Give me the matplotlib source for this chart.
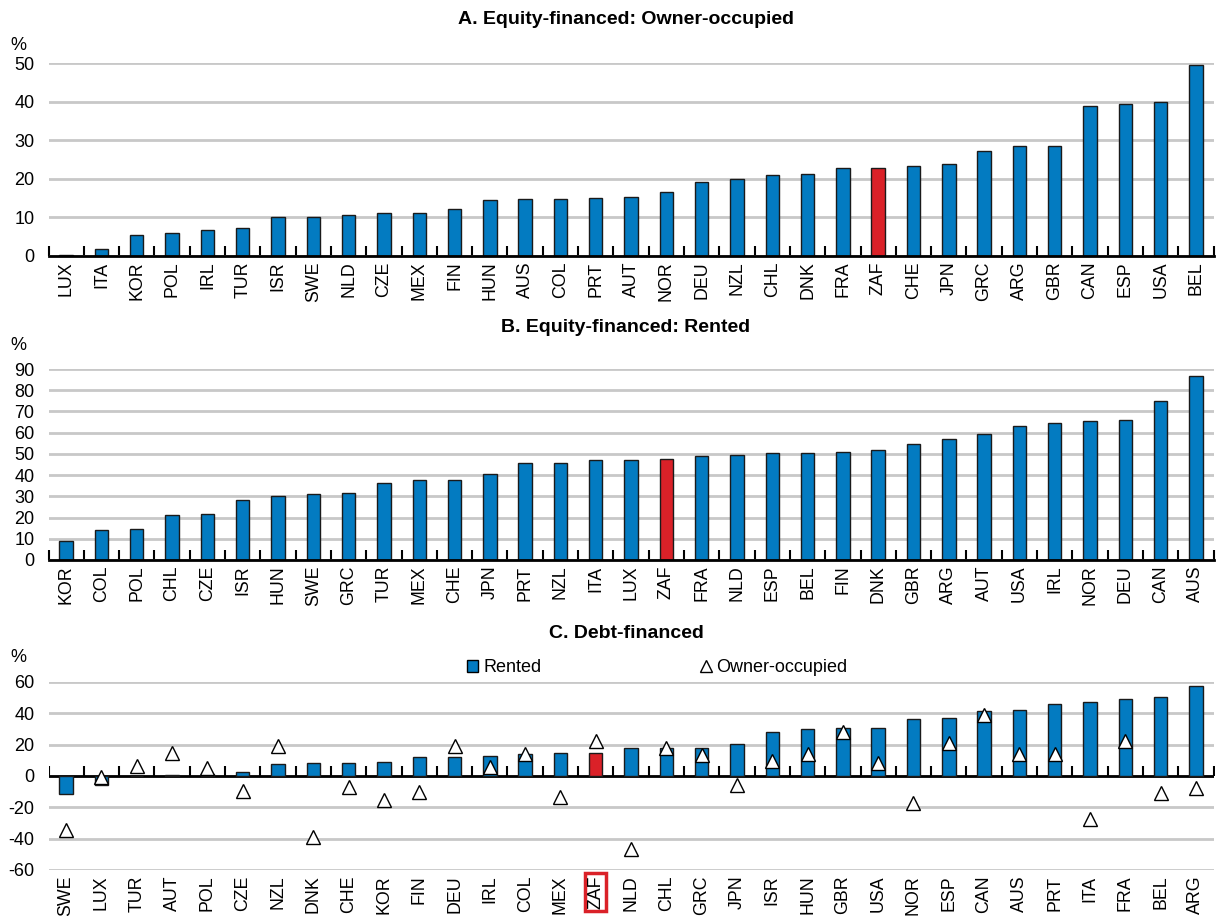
import matplotlib
matplotlib.use('Agg')
import matplotlib.pyplot as plt
from matplotlib import font_manager
from matplotlib.patches import Patch
from matplotlib.lines import Line2D
from matplotlib.ticker import FixedLocator

# Panel A: equity-financed, owner-occupied
a_countries = ['LUX', 'ITA', 'KOR', 'POL', 'IRL', 'TUR', 'ISR', 'SWE', 'NLD', 'CZE', 'MEX',
               'FIN', 'HUN', 'AUS', 'COL', 'PRT', 'AUT', 'NOR', 'DEU', 'NZL', 'CHL', 'DNK',
               'FRA', 'ZAF', 'CHE', 'JPN', 'GRC', 'ARG', 'GBR', 'CAN', 'ESP', 'USA', 'BEL']
a_values = [0.2, 1.9, 5.5, 6.0, 6.7, 7.2, 10.0, 10.1, 10.6, 11.2, 11.2,
            12.1, 14.4, 14.7, 14.7, 14.9, 15.4, 16.5, 19.3, 19.9, 21.1, 21.2,
            22.7, 22.9, 23.4, 23.8, 27.3, 28.4, 28.5, 38.9, 39.3, 39.9, 49.5]

# Panel B: equity-financed, rented
b_countries = ['KOR', 'COL', 'POL', 'CHL', 'CZE', 'ISR', 'HUN', 'SWE', 'GRC', 'TUR', 'MEX',
               'CHE', 'JPN', 'PRT', 'NZL', 'ITA', 'LUX', 'ZAF', 'FRA', 'NLD', 'ESP', 'BEL',
               'FIN', 'DNK', 'GBR', 'ARG', 'AUT', 'USA', 'IRL', 'NOR', 'DEU', 'CAN', 'AUS']
b_values = [9.1, 14.1, 14.7, 21.2, 21.9, 28.2, 30.1, 31.0, 31.8, 36.4, 37.6,
            37.9, 40.3, 45.6, 45.9, 47.0, 47.2, 47.5, 48.9, 49.7, 50.3, 50.5,
            50.9, 52.0, 54.5, 57.0, 59.2, 63.3, 64.4, 65.5, 65.8, 74.8, 86.5]

# Panel C: debt-financed
c_countries = ['SWE', 'LUX', 'TUR', 'AUT', 'POL', 'CZE', 'NZL', 'DNK', 'CHE', 'KOR', 'FIN',
               'DEU', 'IRL', 'COL', 'MEX', 'ZAF', 'NLD', 'CHL', 'GRC', 'JPN', 'ISR', 'HUN',
               'GBR', 'USA', 'NOR', 'ESP', 'CAN', 'AUS', 'PRT', 'ITA', 'FRA', 'BEL', 'ARG']
c_rented = [-11.8, -5.6, 0.2, 0.6, 1.0, 2.3, 7.7, 8.1, 8.1, 9.2, 12.4,
            12.4, 12.8, 14.3, 14.7, 14.7, 17.7, 17.7, 18.1, 20.3, 28.0, 30.1,
            30.5, 30.8, 36.1, 37.0, 41.2, 42.3, 45.9, 47.2, 48.9, 50.6, 57.2]
c_owner = [-34.4, -0.4, 6.6, 15.0, 5.3, -9.4, 19.4, -38.7, -7.3, -15.0, -10.5,
           19.0, 6.0, 14.3, -13.7, 22.4, -46.8, 18.0, 13.5, -5.8, 9.8, 14.3,
           28.4, 8.5, -17.5, 20.9, 39.0, 14.3, 14.3, -27.3, 22.4, -11.1, -7.5]

BLUE = '#037BC1'
RED = '#DA2128'
GRID = '#c8c8c8'

installed = {f.name for f in font_manager.fontManager.ttflist}
NARROW = 'Liberation Sans Narrow' if 'Liberation Sans Narrow' in installed else 'Liberation Sans'
plt.rcParams['font.family'] = ['Liberation Sans', 'DejaVu Sans']
plt.rcParams['axes.unicode_minus'] = False

W, H = 1217, 916
fig = plt.figure(figsize=(W / 100, H / 100), dpi=100)


def fx(px):
    return px / W


def fy(py):
    return 1 - py / H


def make_axes(top, bottom):
    return fig.add_axes([fx(48.5), fy(bottom), fx(1213.6 - 48.5), (bottom - top) / H])


def style_axes(ax, countries, ylim, yticks, zero_axis=True):
    n = len(countries)
    ax.set_xlim(-0.5, n - 0.5)
    ax.set_ylim(*ylim)
    ax.set_yticks(yticks)
    ax.set_axisbelow(True)
    ax.grid(axis='y', color=GRID, lw=2)
    for s in ['top', 'right', 'left']:
        ax.spines[s].set_visible(False)
    ax.set_xticks(range(n))
    ax.set_xticklabels(countries, rotation=90, fontsize=12.8)
    ax.tick_params(axis='x', which='major', length=0, pad=4)
    ax.tick_params(axis='y', length=0, pad=10)
    for lab in ax.get_yticklabels():
        lab.set_fontfamily(NARROW)
        lab.set_fontsize(13)
    bounds = [i - 0.5 for i in range(n + 1)]
    if zero_axis:
        ax.spines['bottom'].set_linewidth(2)
        ax.xaxis.set_minor_locator(FixedLocator(bounds))
        ax.tick_params(axis='x', which='minor', direction='in', length=7, width=1.5)
    return bounds


def colors_for(countries):
    return [RED if c == 'ZAF' else BLUE for c in countries]


# Panel A
axA = make_axes(63, 256)
axA.bar(range(len(a_countries)), a_values, width=0.38, color=colors_for(a_countries),
        edgecolor='#1a1a1a', lw=1)
style_axes(axA, a_countries, (0, 50), [0, 10, 20, 30, 40, 50])

# Panel B
axB = make_axes(369, 560)
axB.bar(range(len(b_countries)), b_values, width=0.38, color=colors_for(b_countries),
        edgecolor='#1a1a1a', lw=1)
style_axes(axB, b_countries, (0, 90), list(range(0, 91, 10)))

# Panel C
axC = make_axes(682, 870)
axC.bar(range(len(c_countries)), c_rented, width=0.38, color=colors_for(c_countries),
        edgecolor='#1a1a1a', lw=1, zorder=3)
axC.plot(range(len(c_countries)), c_owner, ls='none', marker='^', ms=9.5,
         mfc='white', mec='black', mew=1, zorder=4)
bounds = style_axes(axC, c_countries, (-60, 60), [-60, -40, -20, 0, 20, 40, 60], zero_axis=False)
axC.spines['bottom'].set_visible(False)
axC.axhline(0, color='black', lw=2, zorder=2)
axC.plot(bounds, [0] * len(bounds), ls='none', marker=2, ms=7, mew=1.5, color='black', zorder=2)
for lab in axC.get_xticklabels():
    if lab.get_text() == 'ZAF':
        lab.set_bbox(dict(boxstyle='square,pad=0.12', fc='none', ec=RED, lw=2.5))

handles = [Patch(facecolor=BLUE, edgecolor='black', lw=1),
           Line2D([], [], ls='none', marker='^', ms=8, mfc='white', mec='black', mew=1)]
fig.legend(handles, ['Rented', 'Owner-occupied'], loc='center left',
           bbox_to_anchor=(fx(467), fy(668)), bbox_transform=fig.transFigure,
           ncol=2, frameon=False, handlelength=0.6, handleheight=0.6,
           handletextpad=0.3, columnspacing=8.8, borderpad=0, borderaxespad=0,
           prop={'family': NARROW, 'size': 13})

# Titles and unit labels
for text, ty in [('A. Equity-financed: Owner-occupied', 20),
                 ('B. Equity-financed: Rented', 327),
                 ('C. Debt-financed', 634)]:
    fig.text(fx(626), fy(ty), text, ha='center', va='center', fontsize=14,
             fontweight='bold', family=NARROW)
for py in [45, 345, 657]:
    fig.text(fx(18), fy(py), '%', ha='center', va='center', fontsize=13, family=NARROW)

fig.savefig('out.png', dpi=100)
